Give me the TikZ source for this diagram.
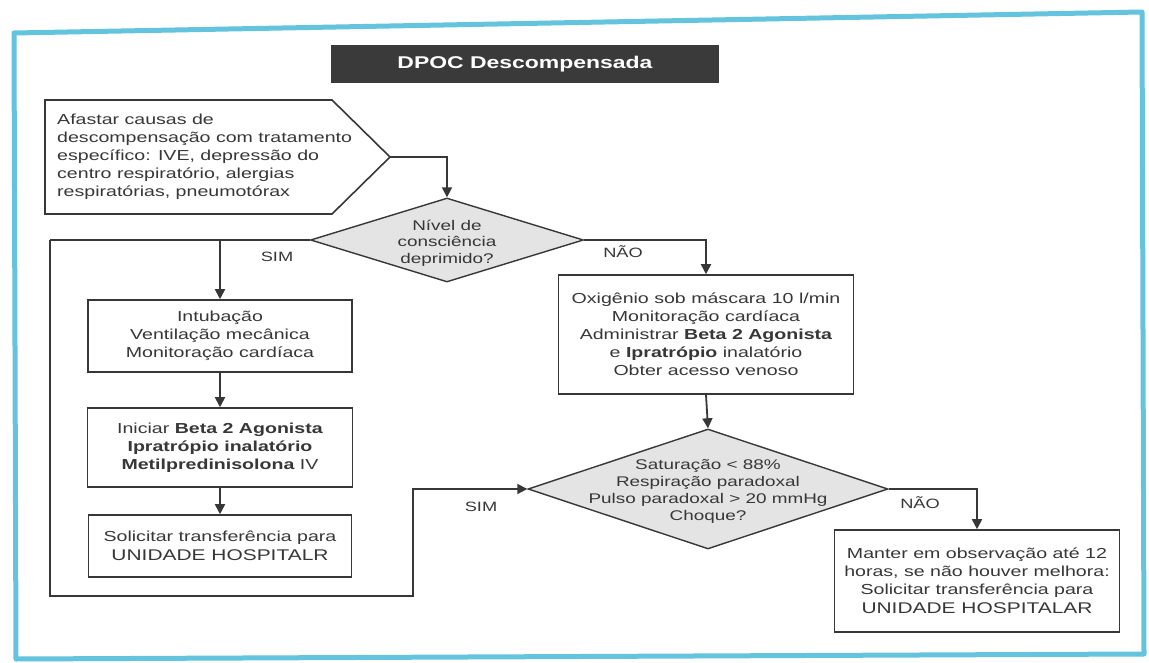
\documentclass[tikz,border=0pt]{standalone}
\usepackage{fontspec}
\setmainfont{Liberation Sans}[FakeStretch=1.35]
\usetikzlibrary{arrows.meta,shapes.geometric}

\definecolor{frameblue}{RGB}{100,196,222}
\definecolor{inkgray}{RGB}{55,55,55}
\definecolor{titlegray}{RGB}{58,58,58}
\definecolor{decisionfill}{RGB}{228,228,228}

\tikzset{
  txt/.style={font=\fontsize{14.5}{18}\selectfont, text=inkgray},
  stepbox/.style={draw=inkgray, line width=1.6pt, fill=white, txt, align=center,
                  inner sep=0pt},
  decision/.style={draw=inkgray, line width=1.4pt, fill=decisionfill,
                   shape=diamond, inner sep=0pt},
  flow/.style={draw=inkgray, line width=1.8pt,
               -{Triangle[length=10pt,width=10pt]}},
  plain/.style={draw=inkgray, line width=1.8pt},
  answer/.style={txt, font=\fontsize{13.5}{16}\selectfont},
}

\begin{document}
\begin{tikzpicture}[x=1pt,y=-1pt]
  \useasboundingbox (0,0) rectangle (1149,663);
  \fill[white] (0,0) rectangle (1149,663);

  % page frame
  \draw[frameblue, line width=5pt, line join=round]
    (14,33) -- (1142,12) -- (1144,654) -- (16,659) -- cycle;

  % title
  \node[fill=titlegray, text=white, minimum width=388pt, minimum height=38pt,
        inner sep=0pt, font=\fontsize{17}{20}\selectfont\bfseries]
    (title) at (525,64) {DPOC Descompensada};

  % entry: pentagon pointing right
  \draw[inkgray, line width=1.6pt, line join=miter, fill=white]
    (45,100) -- (332,100) -- (390,157) -- (332,214) -- (45,214) -- cycle;
  \coordinate (tip) at (390,157);
  \node[txt, align=left, anchor=west, inner sep=0pt] (cause) at (57,157)
    {Afastar causas de\\
     descompensação com tratamento\\
     específico: IVE, depressão do\\
     centro respiratório, alergias\\
     respiratórias, pneumotórax};

  % decisions
  \node[decision, minimum width=273pt, minimum height=84pt] (d1) at (447,240) {};
  \node[txt, align=center, font=\fontsize{14}{16.5}\selectfont] (d1t) at (447,243)
    {Nível de\\ consciência\\ deprimido?};

  \node[decision, minimum width=360pt, minimum height=120pt] (d2) at (708,489) {};
  \node[txt, align=center, font=\fontsize{14}{17}\selectfont] (d2t) at (708,491)
    {Saturação < 88\%\\ Respiração paradoxal\\ Pulso paradoxal > 20 mmHg\\ Choque?};

  % left branch
  \node[stepbox, minimum width=264pt, minimum height=72pt] (A) at (220,336)
    {Intubação\\ Ventilação mecânica\\ Monitoração cardíaca};
  \node[stepbox, minimum width=265pt, minimum height=79pt] (B) at (220,447.5)
    {Iniciar \textbf{Beta 2 Agonista}\\
     \textbf{Ipratrópio inalatório}\\
     \textbf{Metilpredinisolona} IV};
  \node[stepbox, minimum width=263pt, minimum height=62pt] (C) at (220,546)
    {Solicitar transferência para\\[1pt]
     {\fontsize{15.5}{18}\selectfont UNIDADE HOSPITALR}};

  % right branch
  \node[stepbox, minimum width=295pt, minimum height=119pt] (D) at (706,334.5)
    {Oxigênio sob máscara 10 l/min\\
     Monitoração cardíaca\\
     Administrar \textbf{Beta 2 Agonista}\\
     e \textbf{Ipratrópio} inalatório\\
     Obter acesso venoso};
  \node[stepbox, minimum width=285pt, minimum height=102pt] (E) at (977,581)
    {Manter em observação até 12\\
     horas, se não houver melhora:\\
     Solicitar transferência para\\[1pt]
     {\fontsize{15.5}{18}\selectfont UNIDADE HOSPITALAR}};

  % connectors
  \coordinate (split) at (A.north |- d1.west);
  \coordinate (loopTL) at (50,240);
  \coordinate (loopBR) at (413,596);

  \draw[flow] (tip) -| (d1.north);
  \draw[plain] (d1.west) -- (loopTL);
  \draw[flow] (split) -- (A.north);
  \draw[flow] (loopTL) |- (loopBR) |- (d2.west);
  \draw[flow] (A.south) -- (B.north);
  \draw[flow] (B.south) -- (C.north);
  \draw[flow] (d1.east) -| (D.north);
  \draw[flow] (D.south) -- (d2.north);
  \draw[flow] (d2.east) -| (E.north);

  % branch labels
  \node[answer] (sim1) at (277,257) {SIM};
  \node[answer] (nao1) at (623,252) {NÃO};
  \node[answer] (sim2) at (481,507) {SIM};
  \node[answer] (nao2) at (920,503) {NÃO};
\end{tikzpicture}
\end{document}
